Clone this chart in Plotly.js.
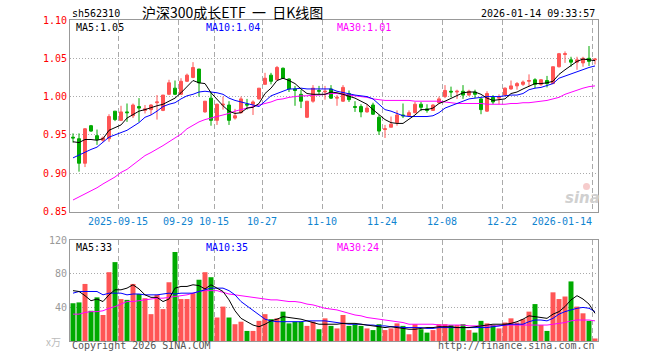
<!DOCTYPE html>
<html><head><meta charset="utf-8">
<script src="https://cdn.plot.ly/plotly-3.0.1.min.js"></script>
<style>html,body{margin:0;padding:0;background:#fff;} #chart{width:660px;height:360px;}</style>
</head><body><div id="chart"></div>
<script>
// ---- data ----
const dates = [
'2025-09-03','2025-09-04','2025-09-05','2025-09-08','2025-09-09','2025-09-10','2025-09-11','2025-09-12','2025-09-15','2025-09-16',
'2025-09-17','2025-09-18','2025-09-19','2025-09-22','2025-09-23','2025-09-24','2025-09-25','2025-09-26','2025-09-29','2025-09-30',
'2025-10-09','2025-10-10','2025-10-13','2025-10-14','2025-10-15','2025-10-16','2025-10-17','2025-10-20','2025-10-21','2025-10-22',
'2025-10-23','2025-10-24','2025-10-27','2025-10-28','2025-10-29','2025-10-30','2025-10-31','2025-11-03','2025-11-04','2025-11-05',
'2025-11-06','2025-11-07','2025-11-10','2025-11-11','2025-11-12','2025-11-13','2025-11-14','2025-11-17','2025-11-18','2025-11-19',
'2025-11-20','2025-11-21','2025-11-24','2025-11-25','2025-11-26','2025-11-27','2025-11-28','2025-12-01','2025-12-02','2025-12-03',
'2025-12-04','2025-12-05','2025-12-08','2025-12-09','2025-12-10','2025-12-11','2025-12-12','2025-12-15','2025-12-16','2025-12-17',
'2025-12-18','2025-12-19','2025-12-22','2025-12-23','2025-12-24','2025-12-25','2025-12-26','2025-12-29','2025-12-30','2025-12-31',
'2026-01-05','2026-01-06','2026-01-07','2026-01-08','2026-01-09','2026-01-12','2026-01-13','2026-01-14'];

const openP = [
0.947,0.945,0.913,0.962,0.949,0.943,0.945,0.981,0.969,0.980,
0.975,0.987,0.982,0.983,0.992,0.982,1.003,1.011,1.003,1.020,
1.025,1.036,0.980,0.998,0.969,0.989,0.989,0.972,0.979,0.990,
0.990,0.997,1.016,1.028,1.022,1.037,1.023,1.010,1.003,0.973,
0.994,1.008,1.006,1.010,0.998,0.994,1.004,0.987,0.987,0.980,
0.989,0.973,0.957,0.960,0.966,0.976,0.975,0.979,0.990,0.984,
0.982,0.992,1.000,1.007,1.006,1.007,1.002,1.006,0.997,0.981,
0.999,0.998,1.002,1.010,1.014,1.016,1.020,1.022,1.016,1.021,
1.017,1.039,1.055,1.048,1.045,1.044,1.050,1.048];
const highP = [
0.952,0.952,0.959,0.963,0.957,0.948,0.977,0.981,0.988,0.991,
0.991,0.998,0.989,0.990,1.002,1.002,1.022,1.021,1.024,1.030,
1.045,1.036,0.994,1.006,0.991,1.000,0.994,0.984,1.000,0.997,
0.995,1.011,1.031,1.031,1.040,1.038,1.024,1.014,1.009,0.994,
1.015,1.014,1.014,1.015,1.002,1.015,1.008,0.994,0.990,0.990,
0.992,0.976,0.963,0.974,0.982,0.991,0.982,0.993,0.993,0.990,
0.990,1.000,1.015,1.013,1.009,1.015,1.009,1.009,0.998,1.007,
1.002,1.003,1.012,1.021,1.019,1.021,1.029,1.024,1.023,1.027,
1.039,1.057,1.059,1.052,1.052,1.052,1.066,1.050];
const lowP = [
0.940,0.902,0.908,0.954,0.937,0.941,0.941,0.968,0.968,0.967,
0.972,0.967,0.978,0.976,0.970,0.981,1.002,1.002,1.002,1.019,
1.024,1.000,0.979,0.962,0.963,0.983,0.963,0.970,0.978,0.983,
0.976,0.996,1.016,1.016,1.021,1.023,1.006,0.988,0.985,0.972,
0.992,1.003,0.996,0.997,0.988,0.993,0.993,0.980,0.973,0.979,
0.976,0.950,0.946,0.960,0.962,0.972,0.974,0.978,0.981,0.979,
0.982,0.991,0.998,0.999,0.997,0.997,1.001,0.998,0.977,0.980,
0.990,0.990,1.001,1.009,1.009,1.014,1.013,1.011,1.014,1.012,
1.017,1.038,1.044,1.039,1.035,1.039,1.040,1.042];
const closeP = [
0.946,0.913,0.958,0.955,0.944,0.946,0.974,0.970,0.980,0.979,
0.989,0.985,0.984,0.989,0.993,1.002,1.018,1.003,1.020,1.028,
1.038,1.018,0.994,0.969,0.990,0.990,0.969,0.975,0.997,0.989,
0.993,1.011,1.024,1.020,1.038,1.024,1.010,1.008,0.994,0.994,
1.011,1.007,1.007,0.998,0.999,1.012,0.996,0.986,0.980,0.985,
0.977,0.955,0.958,0.964,0.976,0.975,0.979,0.990,0.986,0.982,
0.989,0.997,1.008,1.006,1.007,1.002,1.007,1.003,0.983,1.004,
0.993,0.999,1.011,1.014,1.017,1.019,1.021,1.016,1.022,1.017,
1.039,1.056,1.056,1.045,1.048,1.050,1.046,1.049];

const ma5 = [
0.941,0.940,0.944,0.944,0.943,0.945,0.956,0.959,0.963,0.972,
0.977,0.981,0.983,0.986,0.988,0.990,0.994,0.998,1.005,1.013,
1.021,1.018,1.017,1.005,0.996,0.988,0.981,0.978,0.979,0.985,
0.986,0.991,1.004,1.011,1.021,1.024,1.021,1.017,1.010,1.004,
1.003,1.003,1.003,1.006,1.005,1.003,1.001,0.998,0.994,0.990,
0.983,0.976,0.970,0.966,0.965,0.965,0.970,0.976,0.983,0.983,
0.985,0.991,0.994,0.998,1.002,1.005,1.006,1.006,1.003,0.998,
0.995,0.996,0.997,1.004,1.006,1.010,1.014,1.017,1.017,1.018,
1.020,1.029,1.035,1.041,1.046,1.049,1.048,1.047];
const ma10 = [
0.920,0.924,0.927,0.931,0.934,0.940,0.947,0.950,0.953,0.956,
0.961,0.966,0.973,0.976,0.981,0.987,0.990,0.992,0.997,1.001,
1.003,1.006,1.007,1.006,1.005,1.003,0.998,0.995,0.993,0.990,
0.988,0.987,0.994,1.001,1.004,1.007,1.010,1.010,1.011,1.010,
1.010,1.010,1.010,1.010,1.007,1.005,1.003,1.002,1.001,1.000,
0.997,0.990,0.983,0.981,0.978,0.975,0.974,0.974,0.974,0.974,
0.975,0.979,0.985,0.988,0.991,0.993,0.997,0.998,0.999,1.000,
1.000,1.000,1.001,1.002,1.002,1.004,1.009,1.011,1.012,1.014,
1.017,1.024,1.027,1.030,1.032,1.035,1.038,1.040];
const ma30 = [
0.865,0.869,0.873,0.876,0.881,0.886,0.890,0.895,0.901,0.905,
0.911,0.917,0.923,0.927,0.931,0.936,0.941,0.946,0.951,0.958,
0.963,0.967,0.970,0.972,0.975,0.977,0.978,0.981,0.983,0.985,
0.987,0.989,0.991,0.993,0.996,0.997,0.999,1.000,1.001,1.001,
1.002,1.002,1.003,1.004,1.004,1.003,1.002,1.001,1.000,0.999,
0.997,0.996,0.995,0.995,0.995,0.995,0.995,0.994,0.994,0.994,
0.994,0.994,0.993,0.992,0.991,0.991,0.991,0.991,0.991,0.990,
0.990,0.990,0.990,0.991,0.991,0.992,0.992,0.993,0.994,0.995,
0.997,0.999,1.003,1.006,1.009,1.011,1.013,1.014];

const volume = [
45,46,68,36,52,31,82,94,50,49,
68,56,51,32,55,38,70,106,50,50,
57,73,82,76,28,41,28,20,23,12,
12,24,32,26,27,35,21,23,23,18,
23,14,27,18,15,31,18,20,18,15,
13,20,13,15,21,18,8,20,14,10,
13,20,20,19,19,20,13,10,24,21,
19,15,22,27,22,26,35,44,19,12,
58,50,53,71,41,33,24,3];
const volMa5 = [
60,59,54,48,50,47,55,61,61,63,
67,62,55,52,52,47,50,63,65,65,
67,66,62,67,63,59,49,36,27,23,
19,17,20,24,26,29,28,27,26,24,
22,20,20,20,20,21,21,21,20,19,
18,17,16,17,16,15,14,14,15,16,
16,17,17,17,16,16,16,17,18,19,
20,20,20,21,23,26,30,29,28,27,
32,35,41,49,54,50,44,33];
const volMa10 = [
57,59,59,59,59,55,57,57,57,55,
56,56,55,55,55,56,57,56,57,57,
57,59,61,63,63,63,60,55,47,42,
36,31,26,24,23,23,23,23,23,24,
24,24,24,23,22,21,20,20,20,19,
19,18,18,17,17,16,16,16,16,15,
15,16,16,16,16,16,16,16,16,16,
17,18,19,20,20,20,23,25,25,24,
27,32,35,37,39,40,39,35];
const volMa30 = [
32,32,34,35,35,36,39,41,44,47,
47,48,49,50,51,51,52,53,54,55,
57,59,60,60,60,58,56,55,54,53,
52,51,50,49,49,48,47,47,46,44,
43,41,39,38,37,35,33,31,30,28,
27,26,25,24,23,22,20,20,20,20,
20,19,19,19,19,19,18,18,18,18,
18,18,19,19,19,19,19,19,19,19,
20,21,22,24,25,25,25,24];

const tickDates = ['2025-09-15','2025-09-29','2025-10-15','2025-10-27','2025-11-10','2025-11-24','2025-12-08','2025-12-22','2026-01-14'];
const tickLabels = ['2025-09-15','09-29','10-15','10-27','11-10','11-24','12-08','12-22','2026-01-14'];
const priceTicks = [0.85,0.90,0.95,1.00,1.05,1.10];
const volTicks = [40,80,120];

// ---- layout helpers ----
const W=660,H=360,L=70,R=62,T=20,B=19;
const PW=W-L-R, PH=H-T-B;
const px = x => (x-L)/PW;
const py = y => 1-(y-T)/PH;
const MONO = 'DejaVu Sans Mono, monospace';
const CJK = 'Noto Sans CJK SC, sans-serif';
const RED='#ff5555', GREEN='#00aa00';

// gridlines sit on the left edge of the date's bar
const tickPos = tickDates.map(d => dates.indexOf(d) - 0.5);
const tickText = tickLabels.map((t,i) => i===tickLabels.length-1 ? t + '\u00a0'.repeat(t.length) : t);
const volColors = closeP.map((c,i) => c >= openP[i] ? RED : GREEN);
const last = a => a[a.length-1];

const line = (y, color, xa, ya) => ({type:'scatter', mode:'lines', x:dates, y:y, xaxis:xa, yaxis:ya,
  line:{color:color, width:1}, hoverinfo:'skip', showlegend:false});

const traces = [
  {type:'candlestick', x:dates, open:openP, high:highP, low:lowP, close:closeP, xaxis:'x', yaxis:'y',
   increasing:{line:{color:RED,width:1}, fillcolor:RED},
   decreasing:{line:{color:GREEN,width:1}, fillcolor:GREEN},
   whiskerwidth:0, showlegend:false, hoverinfo:'skip'},
  line(ma30,'#ff00ff','x','y'),
  line(ma10,'#0000ff','x','y'),
  line(ma5,'#000000','x','y'),
  {type:'bar', x:dates, y:volume, xaxis:'x2', yaxis:'y2', marker:{color:volColors, line:{width:0}},
   showlegend:false, hoverinfo:'skip'},
  line(volMa30,'#ff00ff','x2','y2'),
  line(volMa10,'#0000ff','x2','y2'),
  line(volMa5,'#000000','x2','y2')
];

const xCommon = {type:'category', range:[-0.5, dates.length-0.5], tickmode:'array', tickvals:tickPos,
  showgrid:true, gridcolor:'#aaaaaa', gridwidth:1, griddash:'5px,3px', zeroline:false,
  showline:true, mirror:true, linecolor:'#999999', linewidth:1, ticks:'', fixedrange:true,
  rangeslider:{visible:false}};

const ann = (text, x, y, color, anchor, size, family) => ({
  text:text, xref:'paper', yref:'paper', x:px(x), y:py(y), xanchor:anchor, yanchor:'middle',
  showarrow:false, font:{family:family||MONO, size:size||10, color:color}});

const layout = {
  width:W, height:H, margin:{l:L, r:R, t:T, b:B}, paper_bgcolor:'#fff', plot_bgcolor:'#fff',
  showlegend:false, bargap:0.17, boxgap:0.3,
  xaxis: Object.assign({}, xCommon, {anchor:'y', ticktext:tickText, showticklabels:true,
    tickfont:{family:MONO, size:10, color:'#1084d0'}}),
  xaxis2: Object.assign({}, xCommon, {anchor:'y2', matches:'x', showticklabels:false}),
  yaxis: {domain:[py(211.5),1], range:[0.85,1.10], tickmode:'array', tickvals:priceTicks,
    ticktext:priceTicks.map(v=>v.toFixed(2)), tickfont:{family:MONO,size:10,color:'#ff0000'},
    showgrid:true, gridcolor:'#aaaaaa', griddash:'1px,2px', zeroline:false, showline:true, mirror:true,
    linecolor:'#999999', ticks:'', fixedrange:true, anchor:'x'},
  yaxis2: {domain:[0,py(240.3)], range:[0,120], tickmode:'array', tickvals:volTicks,
    ticktext:volTicks.map(String), tickfont:{family:MONO,size:10,color:'#999999'},
    showgrid:true, gridcolor:'#aaaaaa', griddash:'1px,2px', zeroline:false, showline:true, mirror:true,
    linecolor:'#999999', ticks:'', fixedrange:true, anchor:'x2'},
  shapes: [
    {type:'circle', xref:'paper', yref:'paper', x0:px(583), x1:px(590), y0:py(190), y1:py(183),
     fillcolor:'#f6cccc', line:{width:0}, layer:'above'}
  ],
  annotations: [
    ann('sh562310', 70, 13, '#000', 'left', 10),
    ann('沪深300成长ETF\u00a0\u00a0一\u00a0\u00a0日K线图', 232, 12, '#000', 'center', 14, CJK),
    ann('2026-01-14 09:33:57', 597, 13, '#000', 'right', 10),
    ann('MA5:'+last(ma5).toFixed(2), 74, 27, '#000000', 'left'),
    ann('MA10:'+last(ma10).toFixed(2), 204, 27, '#0000ff', 'left'),
    ann('MA30:'+last(ma30).toFixed(2), 335, 27, '#ff00ff', 'left'),
    ann('MA5:'+last(volMa5), 74, 247, '#000000', 'left'),
    ann('MA10:'+last(volMa10), 204, 247, '#0000ff', 'left'),
    ann('MA30:'+last(volMa30), 335, 247, '#ff00ff', 'left'),
    ann('x万', 63, 342, '#bbbbbb', 'right', 10, CJK),
    ann('Copyright 2026 SINA.COM', 70, 346, '#555555', 'left'),
    ann('http://finance.sina.com.cn', 597, 346, '#555555', 'right'),
    ann('<b><i>sina</i></b>', 582, 198, '#d0d0d0', 'center', 15, 'DejaVu Sans, sans-serif')
  ]
};

Plotly.newPlot('chart', traces, layout, {staticPlot:true, displayModeBar:false});
</script>
</body></html>
